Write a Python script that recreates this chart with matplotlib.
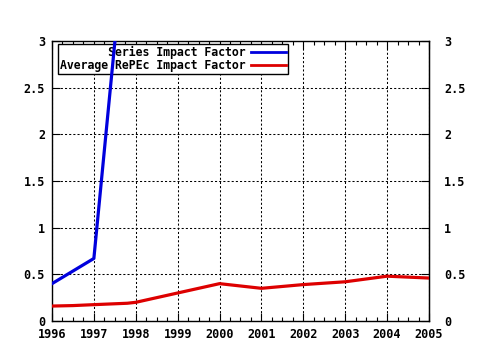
import matplotlib
matplotlib.use("Agg")
import matplotlib.pyplot as plt
from matplotlib.ticker import MultipleLocator

# impact factor series
series_years = [1996, 1997, 1998]
series_if = [0.40, 0.67, 5.30]

repec_years = [1996, 1996.5, 1997, 1997.8, 1998, 1999, 2000, 2001, 2002, 2003, 2004, 2005]
repec_if = [0.16, 0.165, 0.175, 0.19, 0.20, 0.30, 0.40, 0.35, 0.39, 0.42, 0.48, 0.46]

year_ticks = list(range(1996, 2006))
y_ticks = [0, 0.5, 1, 1.5, 2, 2.5, 3]
y_labels = ["0", "0.5", "1", "1.5", "2", "2.5", "3"]

FONT = dict(family="DejaVu Sans Mono", weight="bold", size=8.5)

fig = plt.figure(figsize=(4.8, 3.5), dpi=100)
ax = fig.add_axes([0.1083, 0.0829, 0.7854, 0.8000])

ax.plot(series_years, series_if, color="#0000dd", lw=2.3, zorder=4,
        label="       Series Impact Factor")
ax.plot(repec_years, repec_if, color="#dd0000", lw=2.3, zorder=4,
        label="Average RePEc Impact Factor")

ax.set_xlim(1996, 2005)
ax.set_ylim(0, 3)
ax.set_xticks(year_ticks)
ax.set_xticklabels([str(y) for y in year_ticks], **FONT)
ax.xaxis.set_minor_locator(MultipleLocator(0.25))
ax.set_yticks(y_ticks)
ax.set_yticklabels(y_labels, **FONT)

ax.tick_params(which="both", direction="in", top=True, right=True,
               width=0.8, color="black", pad=5)
ax.tick_params(which="major", length=6)
ax.tick_params(which="minor", length=3)

ax.grid(True, which="major", color="black", lw=0.75, linestyle=(0, (2, 2)))
ax.set_axisbelow(True)
for sp in ax.spines.values():
    sp.set_linewidth(1.0)

leg = ax.legend(loc="upper left", bbox_to_anchor=(0.016, 0.989), borderaxespad=0,
                markerfirst=False, frameon=True, fancybox=False, framealpha=1,
                edgecolor="black", prop=dict(family="DejaVu Sans Mono", weight="bold", size=8.3),
                handlelength=3.1, handletextpad=0.45, borderpad=0.15, labelspacing=0.05)
leg.get_frame().set_linewidth(1.0)
for line in leg.get_lines():
    line.set_linewidth(2.0)
leg.set_zorder(3)

# right-hand tick labels
ax2 = ax.secondary_yaxis("right")
ax2.set_yticks(y_ticks)
ax2.set_yticklabels(y_labels, **FONT)
ax2.tick_params(direction="in", length=0, pad=11)

fig.savefig("out.png", dpi=100)
